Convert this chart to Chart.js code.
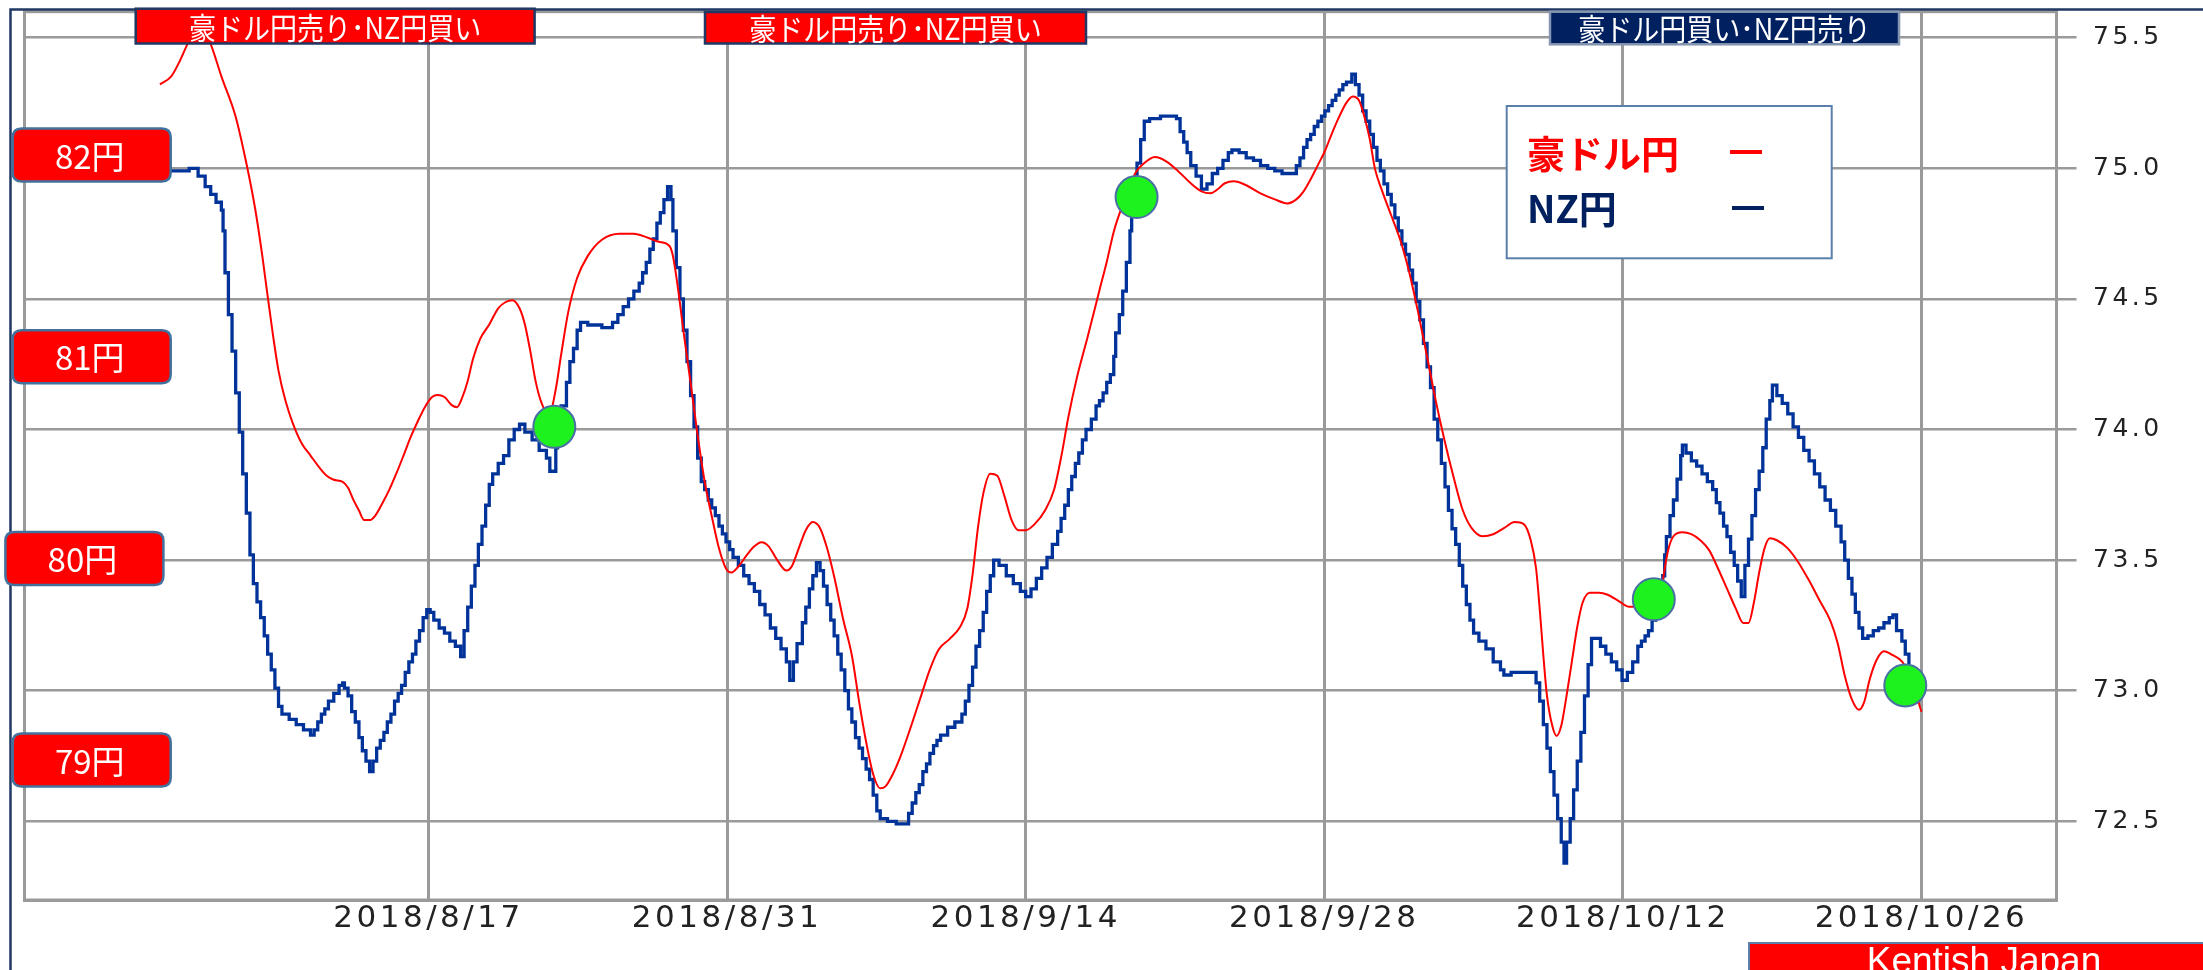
<!DOCTYPE html>
<html>
<head>
<meta charset="utf-8">
<script src="https://cdn.jsdelivr.net/npm/chart.js@4/dist/chart.umd.min.js"></script>
<style>
html,body{margin:0;padding:0;background:#fff;overflow:hidden}
canvas{display:block}
</style>
</head>
<body>
<canvas id="c" width="2203" height="970"></canvas>
<script>
// ---- data (x = days from 2018/8/17) ----
const baseDateText = "2018/8/17";
const tickLabels = ["2018/8/17","2018/8/31","2018/9/14","2018/9/28","2018/10/12","2018/10/26"];
const nzTicks = [72.5,73.0,73.5,74.0,74.5,75.0,75.5];
const audLabelValues = [82,81,80,79];
const audLabelTexts = ["82円","81円","80円","79円"];
const seriesNames = ["豪ドル円","NZ円"];
const signalTexts = ["豪ドル円売り･NZ円買い","豪ドル円売り･NZ円買い","豪ドル円買い･NZ円売り"];
const creditText = "Kentish Japan";

const nzDays = [
-12.59,-12.09,-11.39,-11.22,-10.97,-10.80,-10.47,-10.21,-9.96,-9.71,
-9.63,-9.54,-9.38,-9.21,-9.04,-8.87,-8.71,-8.54,-8.37,-8.21,
-8.04,-7.87,-7.70,-7.54,-7.37,-7.20,-7.03,-6.87,-6.53,-6.20,
-5.86,-5.53,-5.36,-5.19,-5.02,-4.86,-4.69,-4.44,-4.19,-4.02,
-3.94,-3.77,-3.60,-3.43,-3.26,-3.10,-2.93,-2.76,-2.60,-2.43,
-2.26,-2.09,-1.93,-1.76,-1.59,-1.42,-1.26,-1.09,-0.92,-0.75,
-0.59,-0.42,-0.25,-0.08,0.08,0.25,0.50,0.75,1.00,1.26,
1.51,1.67,1.84,2.01,2.18,2.34,2.51,2.68,2.85,3.01,
3.27,3.52,3.77,4.02,4.27,4.52,4.86,5.19,5.53,5.69,
5.80,5.97,6.05,6.22,6.47,6.63,6.80,6.97,7.13,7.47,
7.80,8.13,8.46,8.63,8.88,9.13,9.38,9.63,9.88,10.04,
10.21,10.38,10.54,10.71,10.87,11.04,11.21,11.37,11.46,11.62,
11.79,11.95,12.12,12.29,12.45,12.62,12.79,12.95,13.12,13.28,
13.45,13.62,13.78,13.95,14.12,14.28,14.53,14.78,15.03,15.28,
15.53,15.78,16.03,16.28,16.53,16.78,16.94,17.11,17.28,17.53,
17.69,17.86,18.02,18.19,18.36,18.52,18.69,18.86,19.02,19.19,
19.35,19.52,19.69,19.85,20.02,20.19,20.35,20.52,20.68,20.85,
21.02,21.18,21.52,21.93,22.35,22.51,22.68,22.85,23.01,23.18,
23.35,23.51,23.68,23.84,24.01,24.34,24.68,25.01,25.17,25.34,
25.51,25.67,25.84,26.01,26.17,26.34,26.50,26.75,27.09,27.42,
27.75,28.00,28.25,28.50,28.75,29.00,29.25,29.50,29.66,29.83,
30.00,30.16,30.33,30.49,30.66,30.83,31.08,31.30,31.46,31.63,
31.80,31.97,32.13,32.22,32.39,32.55,32.72,32.89,32.97,33.14,
33.22,33.39,33.56,33.81,34.32,34.73,35.07,35.24,35.41,35.57,
35.74,35.99,36.24,36.50,36.75,37.00,37.25,37.50,37.67,38.01,
38.34,38.68,39.01,39.35,39.68,40.02,40.44,40.69,40.86,41.03,
41.19,41.36,41.53,41.70,41.87,42.03,42.20,42.37,42.54,42.70,
42.87,43.04,43.29,43.46,43.63,43.80,43.96,44.13,44.30,44.47,
44.63,44.80,44.97,45.14,45.31,45.47,45.64,45.81,45.98,46.14,
46.31,46.48,46.65,46.82,46.98,47.15,47.32,47.49,47.66,47.82,
47.99,48.16,48.33,48.49,48.66,48.83,49.00,49.25,49.58,49.92,
50.26,50.42,50.76,51.26,51.77,51.93,52.10,52.27,52.44,52.60,
52.77,52.94,53.11,53.24,53.36,53.53,53.69,53.86,54.03,54.20,
54.37,54.53,54.70,54.95,55.20,55.46,55.71,55.96,56.21,56.46,
56.70,56.87,57.04,57.20,57.37,57.54,57.71,57.87,57.96,58.04,
58.21,58.37,58.54,58.71,58.79,58.96,59.21,59.46,59.71,59.96,
60.21,60.38,60.55,60.72,60.88,61.05,61.22,61.38,61.55,61.72,
61.89,62.05,62.22,62.39,62.56,62.72,62.89,63.01,63.22,63.47,
63.73,63.98,64.23,64.48,64.73,64.98,65.23,65.48,65.73,65.98,
66.23,66.40,66.57,66.74,66.90,67.07,67.24,67.49,67.74,67.99,
68.24,68.49,68.66,68.83,69.08,69.24,69.41,69.58
];
const nzValues = [
74.99,74.99,74.99,75.00,75.00,74.97,74.93,74.90,74.87,74.84,
74.76,74.60,74.44,74.30,74.14,73.99,73.83,73.68,73.52,73.41,
73.34,73.28,73.21,73.14,73.08,73.01,72.94,72.91,72.89,72.87,
72.85,72.83,72.85,72.88,72.91,72.93,72.96,72.99,73.02,73.03,
73.01,72.98,72.92,72.88,72.82,72.77,72.73,72.69,72.73,72.78,
72.81,72.84,72.88,72.91,72.96,72.99,73.02,73.07,73.11,73.14,
73.19,73.23,73.28,73.31,73.30,73.27,73.24,73.22,73.19,73.17,
73.13,73.23,73.32,73.40,73.48,73.56,73.63,73.71,73.79,73.83,
73.87,73.90,73.96,74.00,74.02,73.99,73.96,73.92,73.89,73.84,
73.84,73.93,74.01,74.09,74.18,74.26,74.31,74.38,74.41,74.40,
74.40,74.39,74.39,74.41,74.44,74.47,74.50,74.53,74.56,74.60,
74.64,74.69,74.73,74.79,74.83,74.88,74.93,74.88,74.76,74.62,
74.50,74.38,74.26,74.13,74.01,73.89,73.80,73.77,73.73,73.70,
73.67,73.63,73.60,73.57,73.54,73.51,73.48,73.44,73.41,73.38,
73.33,73.29,73.24,73.20,73.16,73.11,73.04,73.11,73.18,73.26,
73.32,73.39,73.44,73.49,73.46,73.40,73.33,73.27,73.21,73.14,
73.08,73.00,72.93,72.88,72.82,72.78,72.74,72.70,72.66,72.60,
72.54,72.51,72.50,72.49,72.49,72.53,72.57,72.61,72.64,72.69,
72.72,72.76,72.79,72.81,72.83,72.86,72.88,72.91,72.96,73.02,
73.09,73.17,73.23,73.30,73.38,73.44,73.50,73.48,73.44,73.41,
73.38,73.36,73.39,73.43,73.47,73.51,73.56,73.61,73.66,73.71,
73.77,73.82,73.87,73.91,73.96,74.00,74.04,74.09,74.11,74.14,
74.18,74.21,74.28,74.37,74.44,74.53,74.64,74.76,74.84,74.91,
75.02,75.11,75.18,75.19,75.20,75.20,75.19,75.14,75.10,75.06,
75.01,74.97,74.92,74.94,74.98,75.00,75.03,75.06,75.07,75.06,
75.04,75.03,75.01,75.00,74.99,74.98,74.98,75.01,75.04,75.08,
75.11,75.13,75.16,75.18,75.20,75.22,75.24,75.26,75.28,75.30,
75.32,75.33,75.36,75.32,75.28,75.22,75.18,75.13,75.08,75.03,
74.99,74.94,74.90,74.86,74.81,74.76,74.71,74.67,74.61,74.56,
74.49,74.42,74.33,74.24,74.16,74.04,73.96,73.87,73.78,73.69,
73.62,73.56,73.48,73.40,73.33,73.27,73.22,73.19,73.16,73.11,
73.08,73.06,73.07,73.07,73.07,73.03,72.96,72.87,72.78,72.69,
72.60,72.51,72.42,72.34,72.42,72.51,72.62,72.73,72.84,72.98,
73.10,73.20,73.20,73.17,73.14,73.11,73.08,73.04,73.07,73.11,
73.17,73.19,73.21,73.23,73.27,73.31,73.38,73.44,73.52,73.59,
73.67,73.73,73.81,73.90,73.94,73.91,73.88,73.86,73.83,73.80,
73.77,73.72,73.68,73.63,73.59,73.53,73.48,73.42,73.36,73.48,
73.58,73.67,73.77,73.84,73.93,74.04,74.11,74.17,74.13,74.10,
74.06,74.01,73.97,73.92,73.88,73.83,73.78,73.73,73.69,73.63,
73.57,73.50,73.43,73.37,73.30,73.24,73.20,73.21,73.23,73.24,
73.26,73.28,73.29,73.23,73.19,73.14,73.09,73.01
];

const audDays = [
-12.59,-12.06,-11.64,-11.30,-10.76,-10.21,-9.71,-9.04,-8.54,-8.12,
-7.79,-7.54,-7.28,-7.03,-6.70,-6.36,-5.94,-5.53,-5.11,-4.77,
-4.44,-4.02,-3.77,-3.52,-3.27,-3.01,-2.76,-2.51,-2.18,-1.84,
-1.51,-1.17,-0.84,-0.50,-0.17,0.17,0.42,0.75,1.09,1.34,
1.59,1.84,2.09,2.43,2.85,3.27,3.60,3.94,4.27,4.52,
4.77,5.02,5.27,5.65,5.97,6.22,6.55,6.97,7.47,8.13,
8.96,9.63,10.29,10.79,11.29,11.46,11.71,11.95,12.29,12.62,
12.95,13.28,13.62,13.95,14.20,14.53,14.95,15.28,15.61,15.95,
16.36,16.78,17.03,17.36,17.69,18.02,18.36,18.69,19.02,19.44,
19.85,20.19,20.52,20.85,21.18,21.43,21.77,22.10,22.60,23.10,
23.51,23.93,24.43,24.92,25.26,25.51,25.76,26.01,26.34,26.67,
27.00,27.34,27.67,28.00,28.42,28.92,29.33,29.66,30.00,30.41,
30.91,31.46,31.80,32.13,32.47,32.81,33.14,33.56,34.06,34.57,
35.15,35.74,36.24,36.66,37.00,37.34,37.76,38.34,39.01,39.68,
40.27,40.69,41.03,41.36,41.70,42.03,42.37,42.70,43.04,43.34,
43.63,43.88,44.13,44.38,44.72,45.14,45.56,45.98,46.40,46.82,
47.23,47.65,48.07,48.49,48.91,49.42,49.92,50.42,50.93,51.35,
51.68,51.93,52.10,52.27,52.44,52.69,52.89,53.11,53.36,53.61,
53.86,54.11,54.45,54.87,55.29,55.79,56.30,56.54,57.29,57.71,
57.87,58.12,58.37,58.79,59.21,59.63,60.05,60.46,60.88,61.30,
61.64,61.89,62.14,62.39,62.64,62.89,63.22,63.73,64.23,64.73,
65.23,65.73,66.07,66.40,66.74,67.07,67.32,67.57,67.91,68.24,
68.66,69.08,69.41,69.75,69.91,70.00
];
const audValues = [
82.35,82.39,82.47,82.55,82.66,82.55,82.39,82.19,81.96,81.73,
81.50,81.30,81.10,80.93,80.78,80.67,80.57,80.51,80.45,80.41,
80.39,80.38,80.35,80.29,80.24,80.19,80.19,80.21,80.27,80.34,
80.42,80.51,80.60,80.68,80.75,80.80,80.81,80.80,80.76,80.75,
80.80,80.88,80.99,81.09,81.16,81.24,81.27,81.28,81.24,81.16,
81.03,80.88,80.78,80.71,80.84,81.01,81.22,81.39,81.50,81.58,
81.61,81.61,81.59,81.57,81.55,81.50,81.33,81.13,80.87,80.61,
80.38,80.21,80.05,79.95,79.93,79.96,80.02,80.06,80.08,80.06,
79.99,79.94,79.96,80.05,80.14,80.18,80.15,80.05,79.91,79.70,
79.52,79.29,79.09,78.93,78.86,78.87,78.93,79.01,79.16,79.32,
79.45,79.55,79.60,79.66,79.75,79.92,80.15,80.32,80.42,80.41,
80.31,80.19,80.14,80.14,80.17,80.24,80.34,80.50,80.70,80.90,
81.10,81.33,81.47,81.62,81.73,81.82,81.91,81.96,81.99,81.97,
81.92,81.86,81.82,81.81,81.83,81.86,81.87,81.85,81.81,81.78,
81.76,81.78,81.82,81.88,81.95,82.02,82.11,82.19,82.26,82.29,
82.27,82.19,82.08,81.93,81.82,81.70,81.58,81.42,81.22,81.00,
80.78,80.58,80.40,80.24,80.15,80.11,80.12,80.15,80.18,80.17,
80.09,79.95,79.75,79.52,79.32,79.17,79.12,79.17,79.32,79.49,
79.66,79.78,79.83,79.83,79.82,79.79,79.76,79.76,79.74,79.78,
79.89,80.04,80.11,80.13,80.12,80.09,80.04,79.95,79.85,79.75,
79.68,79.68,79.78,79.93,80.05,80.10,80.09,80.05,79.98,79.89,
79.79,79.69,79.58,79.42,79.30,79.25,79.29,79.40,79.50,79.54,
79.52,79.49,79.43,79.34,79.27,79.24
];

const crossDays = [5.90, 33.20, 57.45, 69.24];
const crossValues = [74.01, 74.89, 73.35, 73.02];

// ---- helpers ----
function dayOf(s){
  const p = s.split('/').map(Number), b = baseDateText.split('/').map(Number);
  return (Date.UTC(p[0],p[1]-1,p[2]) - Date.UTC(b[0],b[1]-1,b[2])) / 86400000;
}
const xTickValues = tickLabels.map(dayOf);
const pairs = (xs, ys) => xs.map((x,i)=>({x:x, y:ys[i]}));

function roundRectPath(c, x, y, w, h, r){
  c.beginPath();
  c.moveTo(x+r,y); c.lineTo(x+w-r,y); c.quadraticCurveTo(x+w,y,x+w,y+r);
  c.lineTo(x+w,y+h-r); c.quadraticCurveTo(x+w,y+h,x+w-r,y+h);
  c.lineTo(x+r,y+h); c.quadraticCurveTo(x,y+h,x,y+h-r);
  c.lineTo(x,y+r); c.quadraticCurveTo(x,y,x+r,y); c.closePath();
}

const overlay = {
  id: 'overlay',
  beforeDraw(chart){
    const c = chart.ctx;
    c.save(); c.fillStyle = '#ffffff'; c.fillRect(0,0,chart.width,chart.height); c.restore();
    c.letterSpacing = '3.5px';
  },
  beforeDatasetsDraw(chart){
    const c = chart.ctx, a = chart.chartArea;
    c.letterSpacing = '0px';
    c.save();
    c.strokeStyle = '#9a9a9a'; c.lineWidth = 3;
    c.strokeRect(a.left, a.top, a.right - a.left, a.bottom - a.top);
    c.restore();
  },
  afterDraw(chart){
    const c = chart.ctx;
    c.save();
    c.letterSpacing = '0px';
    // outer frame (top and left)
    c.strokeStyle = '#1f3864'; c.lineWidth = 2.5;
    c.beginPath(); c.moveTo(10.5, 970); c.lineTo(10.5, 9.5); c.lineTo(2203, 9.5); c.stroke();

    // signal boxes at the top
    const boxes = [
      {x:135.7, y:8.7, w:398.9, h:34.8, fill:'#ff0000', stroke:'#1f3864'},
      {x:705, y:12, w:381, h:31.5, fill:'#ff0000', stroke:'#1f3864'},
      {x:1550, y:11.7, w:349, h:32.6, fill:'#002060', stroke:'#8496b0'}
    ];
    c.font = '30px "Noto Sans CJK JP"';
    c.textAlign = 'center'; c.textBaseline = 'middle';
    boxes.forEach((b,i)=>{
      c.fillStyle = b.fill; c.fillRect(b.x,b.y,b.w,b.h);
      c.strokeStyle = b.stroke; c.lineWidth = 2.5; c.strokeRect(b.x,b.y,b.w,b.h);
      c.save();
      c.translate(b.x + b.w/2, b.y + b.h/2 + 1);
      c.scale(0.9, 1);
      c.fillStyle = '#ffffff';
      c.fillText(signalTexts[i], 0, 0);
      c.restore();
    });

    // left yen labels, positioned through the AUD/JPY scale
    const ys = chart.scales.yAud;
    const lx = [12.7, 12.7, 5.4, 12.7];
    c.font = '33px "Noto Sans CJK JP"';
    audLabelValues.forEach((v,i)=>{
      const yc = ys.getPixelForValue(v);
      const x = lx[i], w = 158, h = 53;
      roundRectPath(c, x, yc - h/2, w, h, 9);
      c.fillStyle = '#ff0000'; c.fill();
      c.strokeStyle = '#41719c'; c.lineWidth = 2.5; c.stroke();
      c.fillStyle = '#ffffff';
      c.fillText(audLabelTexts[i], x + w/2 - 2, yc + 1);
    });

    // legend
    c.fillStyle = '#ffffff'; c.fillRect(1506.7, 106, 325, 152.3);
    c.strokeStyle = '#5b7fad'; c.lineWidth = 2; c.strokeRect(1506.7, 106, 325, 152.3);
    c.textAlign = 'left';
    c.font = 'bold 38px "Noto Sans CJK JP"';
    c.fillStyle = '#ff0000'; c.fillText(seriesNames[0], 1527, 154);
    c.fillStyle = '#002060'; c.fillText(seriesNames[1], 1527, 209);
    c.fillStyle = '#ff0000'; c.fillRect(1730, 150, 32, 4);
    c.fillStyle = '#002060'; c.fillRect(1732, 206, 32, 4);

    // credit
    c.fillStyle = '#ff0000'; c.fillRect(1749, 943, 470, 40);
    c.strokeStyle = '#5b7fad'; c.lineWidth = 2; c.strokeRect(1749, 943, 470, 40);
    c.fillStyle = '#ffffff'; c.textAlign = 'center'; c.textBaseline = 'alphabetic';
    c.font = '37px "Liberation Sans"';
    c.fillText(creditText, 1984, 973);
    c.restore();
  }
};

new Chart(document.getElementById('c'), {
  type: 'line',
  data: {
    datasets: [
      { label: 'cross', data: pairs(crossDays, crossValues), yAxisID: 'y', showLine: false,
        pointRadius: 21, pointHoverRadius: 21, pointBackgroundColor: '#1ef21e',
        pointBorderColor: '#4a6fa5', pointBorderWidth: 2, order: 0, clip: false },
      { label: seriesNames[0], data: pairs(audDays, audValues), yAxisID: 'yAud',
        borderColor: '#ff0000', borderWidth: 2, pointRadius: 0,
        cubicInterpolationMode: 'monotone', order: 1, clip: false },
      { label: seriesNames[1], data: pairs(nzDays, nzValues), yAxisID: 'y',
        borderColor: '#003399', borderWidth: 3.3, pointRadius: 0, stepped: true, order: 2 }
    ]
  },
  options: {
    responsive: false, animation: false, events: [],
    layout: { autoPadding: false, padding: { left: 24.5, top: 11.7, right: 0, bottom: 0 } },
    plugins: { legend: { display: false }, tooltip: { enabled: false } },
    scales: {
      x: {
        type: 'linear', position: 'bottom', min: -18.94, max: 76.33,
        afterBuildTicks: s => { s.ticks = xTickValues.map(v => ({ value: v })); },
        afterFit: s => { s.height = 70; s.paddingLeft = 0; s.paddingRight = 0; },
        grid: { color: '#9a9a9a', lineWidth: 3, drawTicks: false },
        border: { color: '#9a9a9a', width: 3 },
        ticks: { callback: (v, i) => tickLabels[i], autoSkip: false, maxRotation: 0,
                 font: { family: 'DejaVu Sans', size: 31 }, color: '#222222', padding: 0 }
      },
      y: {
        type: 'linear', position: 'right', min: 72.1986, max: 75.5995,
        afterBuildTicks: s => { s.ticks = nzTicks.map(v => ({ value: v })); },
        afterFit: s => { s.width = 146.5; s.paddingTop = 0; s.paddingBottom = 0; },
        grid: { color: '#9a9a9a', lineWidth: 2.5, tickLength: 20, drawTicks: true },
        border: { color: '#9a9a9a', width: 3 },
        ticks: { callback: v => Number(v).toFixed(1), font: { family: 'DejaVu Sans', size: 25 },
                 color: '#222222', padding: 16.5 }
      },
      yAud: { type: 'linear', display: false, position: 'left', min: 78.3065, max: 82.7105,
        afterFit: s => { s.paddingTop = 0; s.paddingBottom = 0; } }
    }
  },
  plugins: [overlay]
});
</script>
</body>
</html>
